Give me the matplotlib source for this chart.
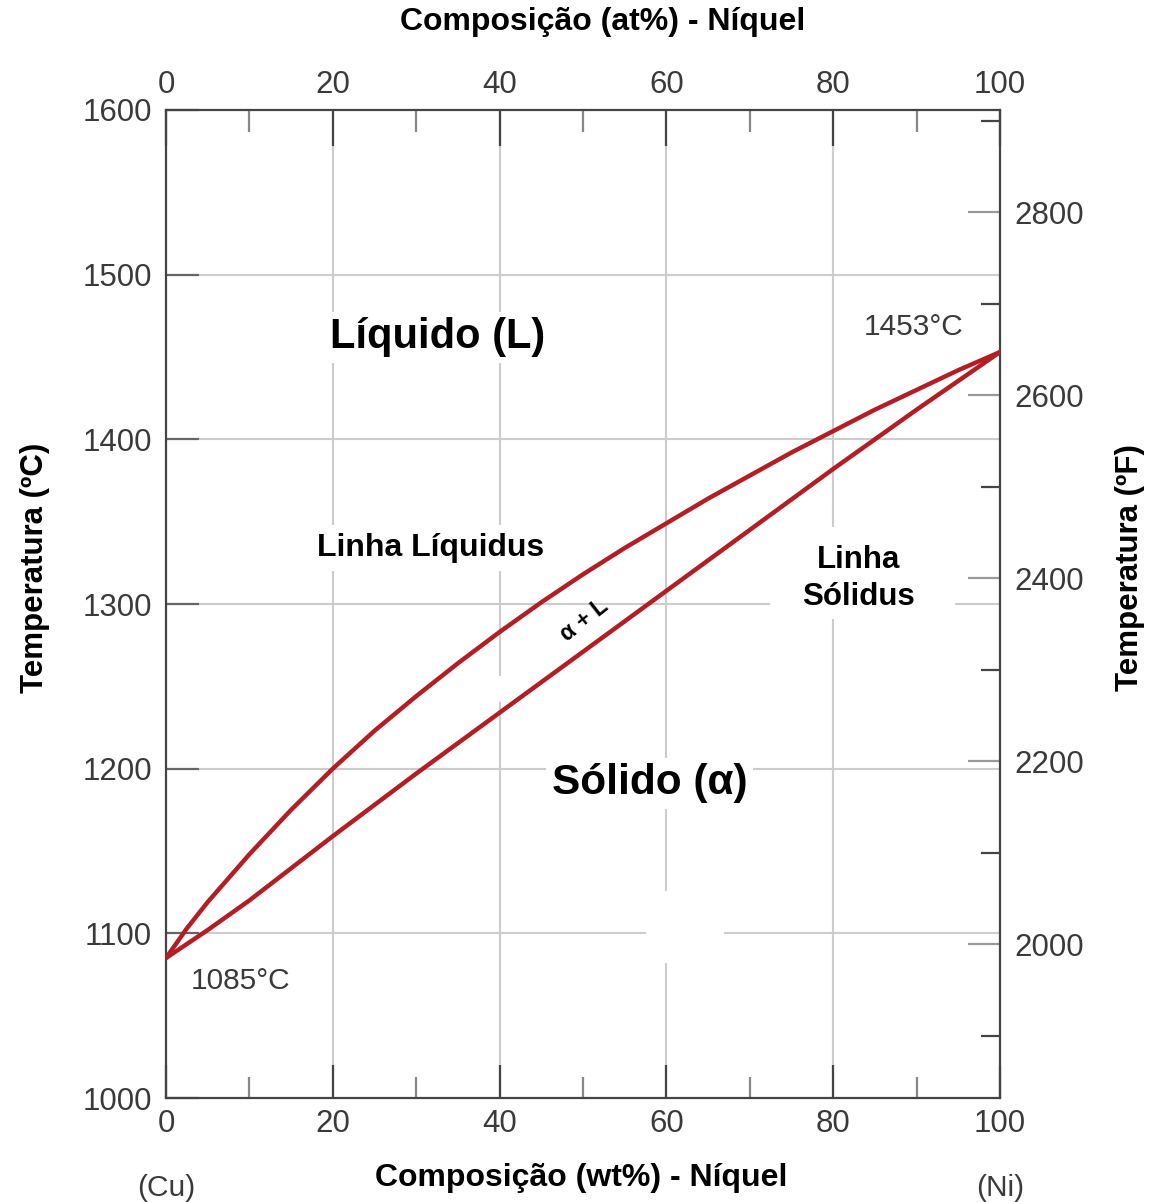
import matplotlib.pyplot as plt
from matplotlib.patches import Rectangle

# composition (wt% Ni) and phase boundaries (deg C)
comp_l = [0, 2.5, 5, 10, 15, 20, 25, 30, 35, 40, 45, 50,
          55, 60, 65, 70, 75, 80, 85, 90, 95, 100]
liquidus = [1085, 1103, 1119, 1148, 1175, 1200, 1223, 1244, 1264, 1283, 1301, 1318,
            1334, 1349, 1364, 1378, 1392, 1405, 1418, 1430, 1442, 1453]
comp_s = [0, 5, 10, 20, 30, 40, 50, 60, 70, 80, 90, 100]
solidus = [1085, 1102, 1120, 1159, 1197, 1234, 1271, 1308, 1345, 1382, 1418, 1453]

x_ticks = [0, 20, 40, 60, 80, 100]
x_minor = [10, 30, 50, 70, 90]
t_ticks = [1000, 1100, 1200, 1300, 1400, 1500, 1600]
f_ticks = [2000, 2200, 2400, 2600, 2800]
f_minor = [1900, 2100, 2300, 2500, 2700, 2900]

W, H = 1151, 1202
red = '#b21e24'
num_color = '#3a3a3a'
plt.rcParams['font.family'] = ['Liberation Sans', 'DejaVu Sans']


def fx(px):
    return px / W


def fy(py):
    return 1 - py / H


fig = plt.figure(figsize=(W / 100, H / 100), dpi=100)
ax = fig.add_axes([fx(166), fy(1098), (1000 - 166) / W, (1098 - 110) / H])
ax.set_xlim(0, 100)
ax.set_ylim(1000, 1600)

# grid (only interior lines)
for x in x_ticks[1:-1]:
    ax.axvline(x, color='#cccccc', lw=1.5, zorder=0)
for t in t_ticks[1:-1]:
    ax.axhline(t, color='#cccccc', lw=1.5, zorder=0)

# white blanks over grid seen in the original
ax.add_patch(Rectangle((57.6, 1081.8), 9.3, 43.7, color='white', zorder=1, lw=0))
ax.add_patch(Rectangle((34.3, 1240.6), 6.1, 15.4, color='white', zorder=1, lw=0))
ax.add_patch(Rectangle((72.4, 1291), 22.2, 56, color='white', zorder=1, lw=0))

ax.plot(comp_l, liquidus, color=red, lw=3.2, zorder=3,
        solid_capstyle='round', solid_joinstyle='round')
ax.plot(comp_s, solidus, color=red, lw=3.2, zorder=3,
        solid_capstyle='round', solid_joinstyle='round')

for s in ax.spines.values():
    s.set_color('#444444')
    s.set_linewidth(1.6)

ax.set_xticks(x_ticks)
ax.set_xticks(x_minor, minor=True)
ax.set_yticks(t_ticks)
ax.tick_params(axis='x', which='major', direction='in', length=24, width=1.6,
               color='#444444', labelsize=22.5, labelcolor=num_color, pad=8)
ax.tick_params(axis='x', which='minor', direction='in', length=15, width=1.6,
               color='#888888')
ax.tick_params(axis='y', which='major', direction='in', length=24, width=1.6,
               color='#666666', labelsize=22.5, labelcolor=num_color, pad=10)

top = ax.secondary_xaxis('top')
top.set_xticks(x_ticks)
top.set_xticks(x_minor, minor=True)
top.tick_params(which='major', direction='in', length=26, width=1.6,
                color='#444444', labelsize=22.5, labelcolor=num_color, pad=7)
top.tick_params(which='minor', direction='in', length=16, width=1.6, color='#888888')
top.spines['top'].set_visible(False)

right = ax.secondary_yaxis('right', functions=(lambda c: c * 9 / 5 + 32,
                                                lambda f: (f - 32) * 5 / 9))
right.set_yticks(f_ticks)
right.set_yticks(f_minor, minor=True)
right.tick_params(which='major', direction='in', length=23, width=1.6,
                  color='#999999', labelsize=22.5, labelcolor=num_color, pad=10)
right.tick_params(which='minor', direction='in', length=14, width=1.6, color='#444444')
right.spines['right'].set_visible(False)

# region labels
box = dict(facecolor='white', edgecolor='none', pad=4)
ax.text(32.6, 1462, 'Líquido (L)', fontsize=30, fontweight='bold',
        ha='center', va='center', bbox=box, zorder=2)
ax.text(58.0, 1191, 'Sólido (α)', fontsize=30.5, fontweight='bold',
        ha='center', va='center', bbox=box, zorder=2)
ax.text(31.7, 1334, 'Linha Líquidus', fontsize=23, fontweight='bold',
        ha='center', va='center', bbox=dict(facecolor='white', edgecolor='none', pad=6), zorder=2)
ax.text(83.0, 1315.5, 'Linha\nSólidus', fontsize=22.5, fontweight='bold',
        ha='center', va='center', linespacing=1.3, zorder=2)
ax.text(50.2, 1290, 'α + L', fontsize=16.5, fontweight='bold', rotation=38,
        ha='center', va='center', zorder=4)
ax.text(89.7, 1468, '1453°C', fontsize=21.5, color=num_color, ha='center', va='center')
ax.text(8.9, 1071, '1085°C', fontsize=21.5, color=num_color, ha='center', va='center')

# axis titles
fig.text(fx(603), fy(22), 'Composição (at%) - Níquel', fontsize=23, fontweight='bold',
         ha='center', va='center')
fig.text(fx(581), fy(1178), 'Composição (wt%) - Níquel', fontsize=23, fontweight='bold',
         ha='center', va='center')
fig.text(fx(35), fy(568), 'Temperatura (ºC)', fontsize=22.5, fontweight='bold',
         ha='center', va='center', rotation=90)
fig.text(fx(1130), fy(568), 'Temperatura (ºF)', fontsize=22.5, fontweight='bold',
         ha='center', va='center', rotation=90)
fig.text(fx(166), fy(1188), '(Cu)', fontsize=21.5, color=num_color, ha='center', va='center')
fig.text(fx(1000), fy(1188), '(Ni)', fontsize=21.5, color=num_color, ha='center', va='center')

fig.savefig('out.png', dpi=100)
